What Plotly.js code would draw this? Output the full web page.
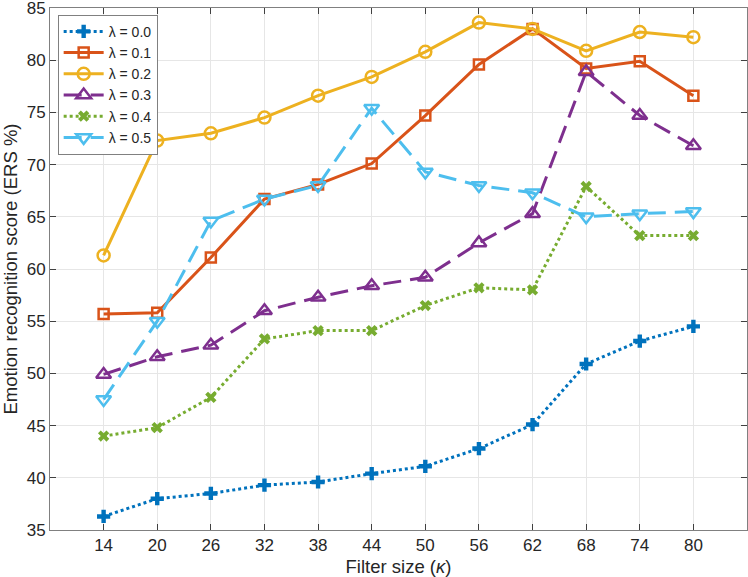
<!DOCTYPE html>
<html>
<head>
<meta charset="utf-8">
<script src="https://cdn.plot.ly/plotly-3.0.1.min.js"></script>
<style>html,body{margin:0;padding:0;background:#fff;}#chart{width:748px;height:577px;}</style>
</head>
<body>
<div id="chart"></div>
<script>
const filterSizes = [14, 20, 26, 32, 38, 44, 50, 56, 62, 68, 74, 80];
const lambda00 = [36.3, 38.0, 38.5, 39.3, 39.6, 40.4, 41.1, 42.8, 45.1, 50.9, 53.1, 54.5];
const lambda01 = [55.7, 55.8, 61.1, 66.7, 68.1, 70.1, 74.7, 79.6, 83.0, 79.2, 79.9, 76.6];
const lambda02 = [61.3, 72.3, 73.0, 74.5, 76.6, 78.4, 80.8, 83.6, 83.0, 80.9, 82.7, 82.2];
const lambda03 = [49.9, 51.6, 52.7, 56.0, 57.3, 58.4, 59.2, 62.5, 65.3, 78.9, 74.7, 71.8];
const lambda04 = [44.0, 44.8, 47.7, 53.3, 54.1, 54.1, 56.5, 58.2, 58.0, 67.9, 63.2, 63.2];
const lambda05 = [47.5, 55.0, 64.6, 66.7, 68.0, 75.4, 69.3, 68.0, 67.3, 65.0, 65.3, 65.5];
const seriesNames = ['λ = 0.0', 'λ = 0.1', 'λ = 0.2', 'λ = 0.3', 'λ = 0.4', 'λ = 0.5'];
const yTicks = [35, 40, 45, 50, 55, 60, 65, 70, 75, 80, 85];

const colors = ['#0072BD', '#D95319', '#EDB120', '#7E2F8E', '#77AC30', '#4DBEEE'];
const dashes = ['dot', 'solid', 'solid', '18px,9px', 'dot', '18px,9px'];
const symbols = ['cross', 'square-open', 'circle-open', 'triangle-up-open', 'x', 'triangle-down-open'];
const sizes = [11, 10, 12, 13, 10, 13];
const allY = [lambda00, lambda01, lambda02, lambda03, lambda04, lambda05];

const traces = allY.map((ys, i) => ({
  x: filterSizes, y: ys, name: seriesNames[i], type: 'scatter', mode: 'lines+markers',
  line: {color: colors[i], width: 3, dash: dashes[i]},
  marker: {symbol: symbols[i], size: sizes[i], color: colors[i],
           line: {color: colors[i], width: (symbols[i] === 'cross' || symbols[i] === 'x') ? 0 : 2.5}}
}));

const axisCommon = {
  showline: true, mirror: 'ticks', linecolor: '#808080', linewidth: 1,
  ticks: 'inside', ticklen: 6, tickcolor: '#404040', tickwidth: 1,
  showgrid: true, gridcolor: '#e6e6e6', gridwidth: 1, zeroline: false,
  ticklabeloverflow: 'allow',
  tickfont: {family: 'Liberation Sans, Arial, sans-serif', size: 17, color: '#262626'}
};

const layout = {
  width: 748, height: 577,
  margin: {l: 50, r: 1, t: 8, b: 47},
  paper_bgcolor: '#fff', plot_bgcolor: '#fff',
  showlegend: true,
  font: {family: 'Liberation Sans, Arial, sans-serif', color: '#262626'},
  xaxis: Object.assign({}, axisCommon, {
    range: [8, 86], tickmode: 'array', tickvals: filterSizes, ticktext: filterSizes.map(String),
    title: {text: 'Filter size (<i>κ</i>)', font: {size: 18.5, color: '#262626'}, standoff: 7}
  }),
  yaxis: Object.assign({}, axisCommon, {
    range: [35, 85], tickmode: 'array', tickvals: yTicks,
    title: {text: 'Emotion recognition score (ERS %)', font: {size: 18.5, color: '#262626'}, standoff: 5}
  }),
  legend: {
    x: 0.011, y: 0.987, xanchor: 'left', yanchor: 'top',
    bgcolor: '#ffffff', bordercolor: '#808080', borderwidth: 1,
    font: {size: 14, color: '#262626'}, itemwidth: 40, tracegroupgap: 0
  }
};

Plotly.newPlot('chart', traces, layout, {displayModeBar: false, staticPlot: true});
</script>
</body>
</html>
